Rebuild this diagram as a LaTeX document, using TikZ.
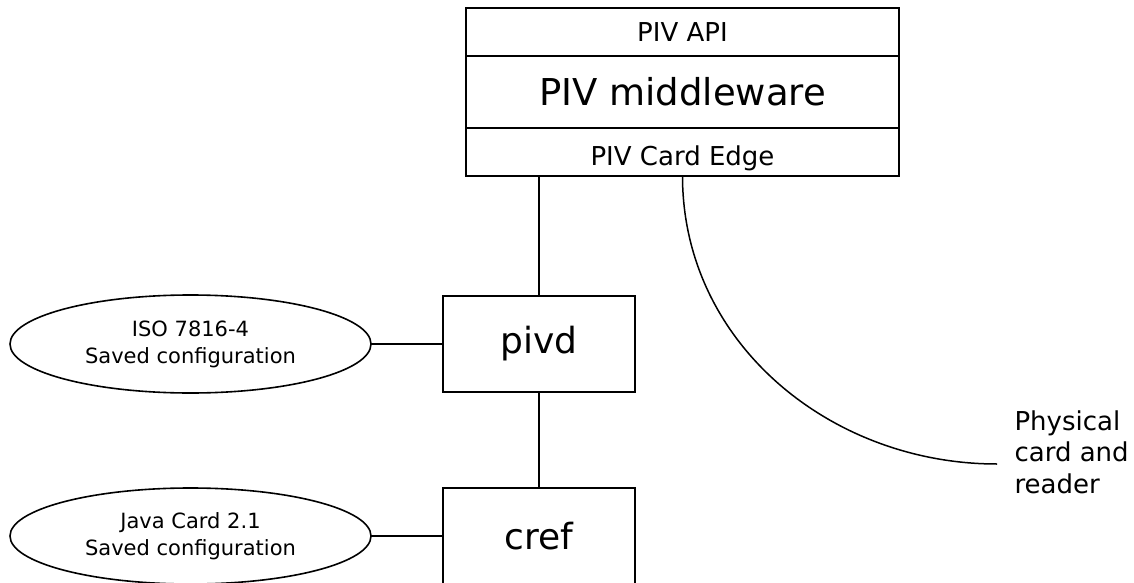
\documentclass[tikz,border=0pt]{standalone}
\usepackage{fontspec}
\setmainfont{DejaVu Sans}
\usetikzlibrary{shapes.geometric}
\begin{document}
\begin{tikzpicture}[x=1pt,y=1pt,
  layer/.style={draw, line width=2pt, rectangle, outer sep=0pt, minimum width=433pt},
  unit/.style={draw, line width=2pt, rectangle, outer sep=0pt, minimum width=192pt, minimum height=96pt, font=\fontsize{36}{43}\selectfont},
  cfg/.style={draw, line width=1.6pt, ellipse, outer sep=0pt, minimum width=361pt, align=center, font=\fontsize{21}{27}\selectfont},
  wire/.style={line width=2pt}]
\useasboundingbox (0,0) rectangle (1134,582);
\node[layer, minimum height=48pt, font=\fontsize{26}{31}\selectfont] (api) at (682.5,550){PIV API};
\node[layer, minimum height=72pt, font=\fontsize{37}{44}\selectfont] (mw) at (682.5,490){PIV middleware};
\node[layer, minimum height=48pt, text height=28pt, text depth=0pt, font=\fontsize{26}{31}\selectfont] (edge) at (682.5,430){PIV Card Edge};
\node[unit] (pivd) at (539,238){pivd};
\node[unit] (cref) at (539,46){cref};
\node[cfg, minimum height=98pt] (iso) at (190.5,238){ISO 7816-4\\Saved configuration};
\node[cfg, minimum height=96pt] (jc) at (190.5,46){Java Card 2.1\\Saved configuration};
\node[anchor=west, align=left, font=\fontsize{26}{31.5}\selectfont] (phys) at (1011,130){Physical\\card and\\reader};
\draw[wire](edge.south -| pivd.north) -- (pivd.north);
\draw[wire](pivd) -- (cref);
\draw[wire](iso) -- (pivd);
\draw[wire](jc) -- (cref);
\draw[line width=1.5pt](edge.south) to[out=-90, in=180] ([xshift=-14pt, yshift=-12pt]phys.west);
\end{tikzpicture}
\end{document}
